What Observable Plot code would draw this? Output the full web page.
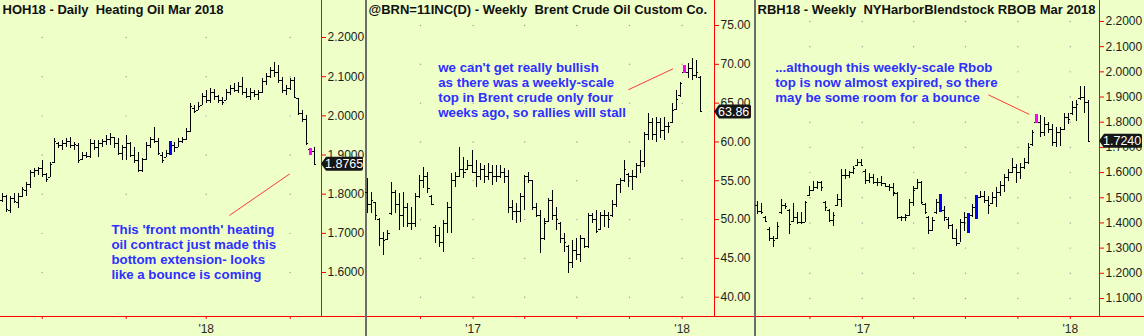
<!DOCTYPE html>
<html><head><meta charset="utf-8">
<script src="https://cdn.jsdelivr.net/npm/d3@7"></script>
<script src="https://cdn.jsdelivr.net/npm/@observablehq/plot@0.6"></script>
<style>
html,body{margin:0;padding:0;background:#eeffc8;}
#wrap{position:relative;width:1144px;height:336px;background:#eeffc8;overflow:hidden}
.panel{position:absolute;top:0}
.sep{position:absolute;top:0;width:2px;height:336px;background:#6c6c6c}
svg text{white-space:pre}
</style></head><body><div id="wrap"></div>
<script>
// ---------------- DATA ----------------
// Panel 1: HOH18 daily heating oil (trading-day index 0..78, Oct 18 2017 .. Feb 9 2018)
const hoTitle = "HOH18 - Daily  Heating Oil Mar 2018";
const hoHigh = [1.802,1.797,1.794,1.802,1.802,1.817,1.830,1.861,1.866,1.868, 1.886,1.853,1.881,1.942,1.933,1.937,1.942,1.945,1.932,1.930, 1.907,1.907,1.940,1.937,1.937,1.940,1.950,1.955,1.945,1.942, 1.925,1.950,1.932,1.919,1.907,1.891,1.932,1.945,1.970,1.942, 1.907,1.912,1.935,1.932,1.942,1.945,1.968,2.032,2.027,2.034, 2.057,2.065,2.070,2.067,2.052,2.047,2.067,2.078,2.083,2.085, 2.098,2.070,2.070,2.065,2.065,2.095,2.108,2.124,2.136,2.129, 2.098,2.078,2.095,2.098,2.044,2.014,2.001,1.917,1.919];
const hoLow = [1.779,1.754,1.751,1.777,1.764,1.792,1.794,1.815,1.843,1.848, 1.843,1.830,1.843,1.879,1.916,1.912,1.919,1.917,1.912,1.879, 1.886,1.891,1.891,1.912,1.894,1.919,1.925,1.925,1.917,1.899, 1.886,1.886,1.894,1.879,1.856,1.856,1.886,1.917,1.930,1.899, 1.879,1.894,1.899,1.907,1.919,1.930,1.937,1.958,2.006,2.014, 2.027,2.032,2.032,2.039,2.032,2.027,2.039,2.052,2.060,2.057, 2.052,2.044,2.039,2.047,2.039,2.057,2.078,2.095,2.098,2.083, 2.057,2.052,2.065,2.044,2.001,1.983,1.925,1.899,1.8765];
const hoOpen = [1.785,1.795,1.758,1.790,1.780,1.795,1.810,1.825,1.855,1.860, 1.865,1.850,1.843,1.880,1.930,1.925,1.930,1.935,1.925,1.925, 1.888,1.900,1.895,1.930,1.920,1.930,1.935,1.940,1.945,1.930, 1.905,1.920,1.930,1.900,1.885,1.860,1.888,1.925,1.940,1.935, 1.900,1.894,1.905,1.925,1.920,1.935,1.940,1.960,2.020,2.014, 2.027,2.050,2.040,2.060,2.050,2.040,2.040,2.060,2.070,2.065, 2.075,2.060,2.050,2.060,2.055,2.060,2.088,2.100,2.115,2.110, 2.090,2.065,2.070,2.090,2.044,2.005,1.990,1.915,1.910];
const hoClose = [1.795,1.760,1.790,1.782,1.795,1.812,1.825,1.855,1.860,1.865, 1.850,1.838,1.875,1.935,1.925,1.930,1.935,1.925,1.928,1.885, 1.900,1.895,1.930,1.920,1.930,1.935,1.940,1.945,1.930,1.905, 1.920,1.930,1.900,1.885,1.860,1.888,1.925,1.940,1.935,1.905, 1.885,1.905,1.925,1.920,1.935,1.940,1.960,2.025,2.012,2.025, 2.050,2.040,2.060,2.050,2.040,2.035,2.060,2.070,2.065,2.075, 2.060,2.050,2.060,2.055,2.060,2.088,2.100,2.115,2.110,2.090, 2.065,2.070,2.090,2.048,2.005,1.990,1.930,1.905,1.8765];
const hoBlue = [42];
const hoPink = [77];
const hoYTicks = [1.6,1.7,1.8,1.9,2.0,2.1,2.2];
const hoXTicks = [10,31,51,72];            // Nov 1, Dec 1, Jan 2 '18, Feb 1
const hoXLabels = ["","","'18",""];
const hoLast = "1.8765";
const hoNote = "This 'front month' heating\noil contract just made this\nbottom extension- looks\nlike a bounce is coming";

// Panel 2: Brent weekly (Fridays from Jul 1 2016 to Feb 9 2018)
const brTitle = "@BRN=11INC(D) - Weekly  Brent Crude Oil Custom Co.";
const brHigh = [55.25,53.53,52.24,50.10,48.37,48.59,54.81,53.75,53.32,53.53, 52.03,51.59,53.32,55.68,56.75,56.10,53.10,49.24,49.02,49.88, 52.24,55.90,56.10,59.32,58.03,57.61,58.90,57.61,57.22,56.97, 57.22,56.97,56.97,56.97,56.54,56.32,52.46,52.03,53.32,55.68, 56.10,55.03,52.03,51.17,50.10,52.68,53.75,51.59,49.66,48.17, 46.66,47.30,47.52,47.95,47.52,50.74,50.74,51.17,50.95,51.17, 50.95,52.46,54.39,55.25,57.61,55.90,56.32,57.18,58.90,61.26, 63.63,62.98,63.19,62.98,63.19,62.54,64.91,66.63,67.70,69.85, 70.07,70.71,70.49,68.43];
const brLow = [50.74,50.74,49.88,46.53,45.38,47.30,50.53,50.74,48.59,49.02, 49.02,48.59,49.02,52.68,53.96,53.32,51.81,46.88,46.44,45.80, 48.17,48.17,54.17,55.46,55.25,56.32,55.90,54.17,55.03,54.61, 55.03,54.39,54.81,55.25,54.61,50.74,49.88,49.46,49.66,51.17, 54.61,51.17,50.31,45.59,47.30,49.66,49.88,48.59,46.88,45.80, 43.02,43.66,44.73,44.51,46.24,46.24,49.46,48.17,48.59,49.02, 48.81,50.31,51.59,53.32,54.81,54.17,53.75,55.25,55.90,56.75, 60.19,60.19,59.97,60.41,60.19,61.05,62.34,64.05,65.76,68.80, 68.13,67.92,68.13,63.80];
const brOpen = [53.5,52.0,52.2,50.0,47.5,47.4,50.8,53.5,52.0,50.5, 51.5,49.5,49.5,53.0,55.0,55.5,53.0,49.0,48.0,47.0, 49.5,51.5,55.0,55.5,56.5,56.4,57.0,56.0,55.5,56.5, 55.5,56.0,55.5,55.5,56.0,55.5,51.5,51.0,51.0,53.0, 55.5,55.0,51.5,50.5,47.5,49.8,52.5,50.5,49.5,47.5, 46.5,44.5,46.0,45.5,47.5,46.5,50.5,50.0,48.7,50.5, 50.5,50.5,52.0,54.5,55.0,55.8,55.5,55.5,57.0,57.5, 61.0,62.5,61.0,62.5,61.5,62.0,62.5,64.2,66.0,69.0, 69.0,69.5,68.5,68.3];
const brClose = [52.0,52.5,50.5,47.5,47.3,48.2,53.5,52.0,50.5,51.5, 49.5,49.5,53.0,55.0,55.5,54.0,52.0,48.0,47.0,49.5, 51.5,55.0,55.5,56.5,56.0,57.0,56.0,55.5,56.5,55.5, 56.0,55.5,55.5,56.0,55.5,51.5,51.0,51.0,53.0,55.5, 55.0,51.5,50.5,47.5,49.5,52.5,50.5,50.0,47.5,47.0, 44.5,46.0,45.5,47.5,46.5,50.5,50.0,48.5,50.5,50.5, 50.0,52.0,54.5,55.0,56.5,55.5,55.5,57.0,57.5,61.0, 62.5,61.0,62.5,61.5,62.0,62.0,64.0,65.5,67.5,69.2, 69.5,68.5,69.0,63.86];
const brBlue = [];
const brPink = [79];
const brYTicks = [40,45,50,55,60,65,70,75];
const brLast = "63.86";
const brNote = "we can't get really bullish\nas there was a weekly-scale\ntop in Brent crude only four\nweeks ago, so rallies will stall";

// Panel 3: RBOB weekly (same Friday dates)
const rbTitle = "RBH18 - Weekly  NYHarborBlendstock RBOB Mar 2018";
const rbHigh = [1.486,1.479,1.426,1.381,1.347,1.400,1.495,1.479,1.453,1.479, 1.440,1.440,1.486,1.545,1.565,1.565,1.565,1.486,1.453,1.440, 1.512,1.611,1.611,1.604,1.624,1.651,1.650,1.611,1.598,1.591, 1.578,1.585,1.558,1.552,1.558,1.519,1.426,1.433,1.492,1.545, 1.572,1.565,1.479,1.426,1.420,1.492,1.512,1.466,1.420,1.394, 1.374,1.413,1.440,1.437,1.473,1.508,1.525,1.525,1.506,1.519, 1.539,1.565,1.591,1.611,1.657,1.631,1.637,1.657,1.717,1.769, 1.832,1.828,1.817,1.797,1.789,1.781,1.781,1.836,1.836,1.881, 1.888,1.940,1.940,1.888];
const rbLow = [1.433,1.433,1.400,1.328,1.302,1.334,1.433,1.453,1.354,1.400, 1.394,1.394,1.400,1.506,1.525,1.532,1.525,1.446,1.400,1.387, 1.466,1.460,1.574,1.578,1.591,1.624,1.625,1.552,1.558,1.552, 1.545,1.545,1.539,1.525,1.506,1.413,1.407,1.407,1.426,1.466, 1.532,1.473,1.433,1.354,1.367,1.433,1.440,1.407,1.374,1.334, 1.305,1.321,1.367,1.358,1.420,1.413,1.499,1.479,1.433,1.473, 1.460,1.506,1.519,1.565,1.598,1.558,1.571,1.611,1.631,1.703, 1.795,1.738,1.742,1.757,1.702,1.698,1.702,1.769,1.789,1.828, 1.802,1.888,1.836,1.724];
const rbOpen = [1.470,1.445,1.420,1.375,1.340,1.340,1.440,1.470,1.450,1.405, 1.420,1.400,1.400,1.510,1.530,1.540,1.560,1.480,1.450,1.410, 1.470,1.495,1.590,1.590,1.600,1.628,1.640,1.605,1.570,1.580, 1.560,1.560,1.555,1.545,1.540,1.515,1.420,1.420,1.430,1.480, 1.535,1.560,1.475,1.420,1.370,1.440,1.480,1.450,1.415,1.390, 1.340,1.320,1.400,1.420,1.430,1.460,1.500,1.505,1.490,1.478, 1.500,1.520,1.550,1.580,1.600,1.620,1.600,1.620,1.640,1.710, 1.800,1.800,1.760,1.790,1.770,1.720,1.760,1.770,1.820,1.835, 1.860,1.895,1.900,1.880];
const rbClose = [1.445,1.440,1.405,1.340,1.330,1.385,1.470,1.465,1.395,1.420, 1.400,1.400,1.480,1.530,1.540,1.560,1.540,1.460,1.410,1.430, 1.495,1.590,1.590,1.600,1.615,1.640,1.630,1.570,1.580,1.560, 1.560,1.555,1.545,1.540,1.520,1.420,1.420,1.420,1.480,1.530, 1.560,1.480,1.440,1.370,1.410,1.480,1.450,1.420,1.390,1.340, 1.320,1.400,1.420,1.430,1.460,1.500,1.505,1.490,1.470,1.500, 1.520,1.550,1.580,1.600,1.620,1.600,1.620,1.640,1.700,1.760, 1.800,1.760,1.790,1.770,1.720,1.760,1.770,1.820,1.810,1.860, 1.870,1.900,1.880,1.724];
const rbBlue = [46,53,55];
const rbPink = [70];
const rbYTicks = [1.1,1.2,1.3,1.4,1.5,1.6,1.7,1.8,1.9,2.0,2.1,2.2];
const rbLast = "1.7240";
const rbNote = "...although this weekly-scale Rbob\ntop is now almost expired, so there\nmay be some room for a bounce";

// weekly dates and quarterly ticks
const weekDates = d3.range(84).map(j => new Date(2016, 6, 1 + 7 * j));
const wkXTicks = [new Date(2016,9,1), new Date(2017,0,1), new Date(2017,3,1), new Date(2017,6,1), new Date(2017,9,1), new Date(2018,0,1)];
const wkXLabels = ["","'17","","","","'18"];

// ---------------- DRAWING ----------------
const FONT = "'Liberation Sans', Arial, Helvetica, sans-serif";
const NOTE_COLOR = "#2f2fff";
const RED = "#ff0000";

function table(xs, high, low, open, close) {
  return xs.map((x, i) => ({x, high: high[i], low: low[i], open: open[i], close: close[i]}));
}

function frameLines() {
  return (index, scales, values, dim) => {
    const g = d3.create("svg:g");
    const yb = dim.height - dim.marginBottom + 0.5;
    const xr = dim.width - dim.marginRight + 0.5;
    g.append("line").attr("x1", 0).attr("x2", dim.width).attr("y1", yb).attr("y2", yb).attr("stroke", RED);
    g.append("line").attr("x1", xr).attr("x2", xr).attr("y1", 0).attr("y2", yb).attr("stroke", RED);
    return g.node();
  };
}

function priceBox(value, label, boxW) {
  return (index, scales, values, dim) => {
    const g = d3.create("svg:g");
    const y = scales.y(value);
    const x0 = dim.width - dim.marginRight;
    const x1 = x0 + boxW, h = 7;
    g.append("path")
      .attr("d", `M${x0},${y} L${x0 + 5},${y - h} H${x1 - 2} Q${x1},${y - h} ${x1},${y - h + 2} V${y + h - 2} Q${x1},${y + h} ${x1 - 2},${y + h} H${x0 + 5} Z`)
      .attr("fill", "#161616");
    g.append("text").attr("x", x0 + 4).attr("y", y).attr("dy", "0.36em").attr("text-anchor", "start")
      .attr("fill", "#fff").attr("font-size", 12.5).attr("font-family", FONT).text(label);
    return g.node();
  };
}

function panel(o) {
  const bars = o.bars;
  const half = o.half;
  const shift = o.shift;
  const blue = o.blue.map(i => bars[i]);
  const pink = o.pink.map(i => bars[i]);
  const grid = d3.cross(o.xTicks, o.yTicks).map(([x, y]) => ({x, y}));
  const labelOf = new Map(o.xTicks.map((t, i) => [+t, o.xLabels[i]]));
  return Plot.plot({
    width: o.width, height: 336,
    marginLeft: 0, marginRight: o.marginRight, marginTop: 0, marginBottom: 20,
    x: {type: o.xType, domain: o.xDomain, axis: null},
    y: {domain: o.yDomain, axis: null},
    style: {background: "transparent", fontFamily: FONT, overflow: "visible"},
    marks: [
      Plot.dot(grid, {x: "x", y: "y", r: 0.7, fill: "#9c9c9c", stroke: null}),
      Plot.text([o.note], {x: () => o.noteX, y: () => o.noteY, text: d => d, textAnchor: "start", lineAnchor: "middle",
        lineHeight: 1.11, fill: NOTE_COLOR, fontWeight: "bold", fontSize: 13.3, fontFamily: FONT}),
      Plot.link([o.link], {x1: "x1", y1: "y1", x2: "x2", y2: "y2", stroke: "#ff3b3b", strokeWidth: 1}),
      Plot.ruleX(bars, {x: "x", y1: "low", y2: "high", stroke: "#000", strokeWidth: 1, shapeRendering: "crispEdges"}),
      Plot.ruleY(bars, {y: "open", x1: d => shift(d.x, -half), x2: "x", stroke: "#000", strokeWidth: 1, shapeRendering: "crispEdges"}),
      Plot.ruleY(bars, {y: "close", x1: "x", x2: d => shift(d.x, half), stroke: "#000", strokeWidth: 1, shapeRendering: "crispEdges"}),
      Plot.ruleX(blue, {x: "x", y1: "low", y2: "high", stroke: "#0000ff", strokeWidth: 3, shapeRendering: "crispEdges"}),
      Plot.ruleX(pink, {x: "x", y1: "low", y2: "high", stroke: "#ff00ff", strokeWidth: 3, shapeRendering: "crispEdges"}),
      frameLines(),
      Plot.axisY({anchor: "right", ticks: o.yTicks, tickFormat: d3.format(o.yFormat), tickSize: 4, tickPadding: 2,
        stroke: RED, fill: "#1c1c1c", fontSize: 12}),
      Plot.axisX({ticks: o.xTicks, tickFormat: d => labelOf.get(+d) ?? "", tickSize: 3, tickPadding: 5,
        stroke: RED, fill: "#2a2a2a", fontSize: 12}),
      Plot.text([o.title], {frameAnchor: "top-left", dx: o.titleDx, dy: 4, lineAnchor: "top", textAnchor: "start",
        fontWeight: "bold", fontSize: 13, fill: "#111"}),
      priceBox(o.lastValue, o.lastLabel, o.boxW)
    ]
  });
}

const idxShift = (x, d) => x + d;
const dayShift = (x, d) => new Date(+x + d * 864e5);

const p1 = panel({
  width: 365, marginRight: 44, xType: "linear", xDomain: [-0.425, 79.825], yDomain: [1.4877, 2.2945],
  bars: table(d3.range(hoHigh.length), hoHigh, hoLow, hoOpen, hoClose), half: 0.55, shift: idxShift,
  blue: hoBlue, pink: hoPink, xTicks: hoXTicks, xLabels: hoXLabels, yTicks: hoYTicks, yFormat: ".4f",
  title: hoTitle, titleDx: 2, note: hoNote, noteX: 27.3, noteY: 1.653,
  link: {x1: 56.8, y1: 1.7456, x2: 71.9, y2: 1.852},
  lastValue: 1.8765, lastLabel: hoLast, boxW: 42
});
const p2 = panel({
  width: 387, marginRight: 40, xType: "time", xDomain: [new Date(2016,5,30,12), new Date(2018,1,26,12)], yDomain: [37.515, 78.22],
  bars: table(weekDates, brHigh, brLow, brOpen, brClose), half: 3.8, shift: dayShift,
  blue: brBlue, pink: brPink, xTicks: wkXTicks, xLabels: wkXLabels, yTicks: brYTicks, yFormat: ".2f",
  title: brTitle, titleDx: 1, note: brNote, noteX: new Date(2016,10,1), noteY: 66.72,
  link: {x1: new Date(2017,8,29), y1: 66.72, x2: new Date(2017,11,16), y2: 69.42},
  lastValue: 63.86, lastLabel: brLast, boxW: 37
});
const p3 = panel({
  width: 388, marginRight: 45, xType: "time", xDomain: [new Date(2016,5,29,6), new Date(2018,1,21,6)], yDomain: [1.0284, 2.2834],
  bars: table(weekDates, rbHigh, rbLow, rbOpen, rbClose), half: 3.8, shift: dayShift,
  blue: rbBlue, pink: rbPink, xTicks: wkXTicks, xLabels: wkXLabels, yTicks: rbYTicks, yFormat: ".4f",
  title: rbTitle, titleDx: 1, note: rbNote, noteX: new Date(2016,7,1), noteY: 1.9577,
  link: {x1: new Date(2017,7,10), y1: 1.909, x2: new Date(2017,9,21), y2: 1.831},
  lastValue: 1.724, lastLabel: rbLast, boxW: 43
});

const wrap = document.getElementById("wrap");
function place(node, left) {
  const d = document.createElement("div");
  d.className = "panel"; d.style.left = left + "px";
  d.appendChild(node); wrap.appendChild(d);
}
function sep(left) {
  const s = document.createElement("div");
  s.className = "sep"; s.style.left = left + "px"; wrap.appendChild(s);
}
place(p1, 0); sep(365); place(p2, 367); sep(754); place(p3, 756);
</script></body></html>
